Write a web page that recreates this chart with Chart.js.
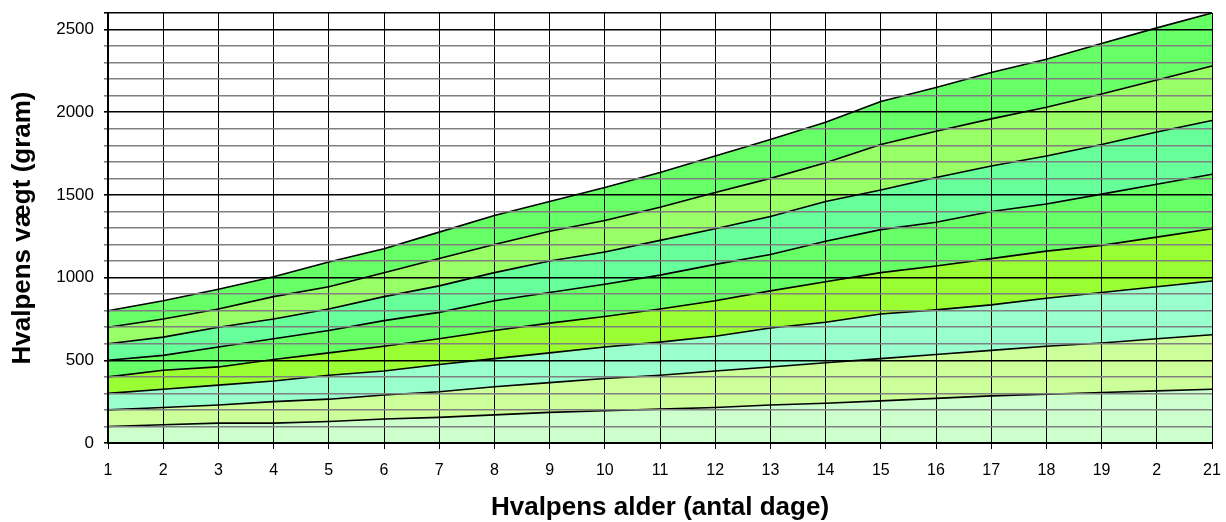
<!DOCTYPE html>
<html>
<head>
<meta charset="utf-8">
<script src="https://cdn.jsdelivr.net/npm/chart.js@4/dist/chart.umd.min.js"></script>
<style>
  html, body { margin: 0; padding: 0; background: #fff; }
  #wrap { width: 1226px; height: 522px; }
</style>
</head>
<body>
<div id="wrap"><canvas id="c" width="1226" height="522"></canvas></div>
<script>
// Day labels (the original chart shows "2" instead of "20")
const dayLabels = ["1","2","3","4","5","6","7","8","9","10","11","12","13","14","15","16","17","18","19","2","21"];

// Upper boundaries of each band (grams)
const line1 = [100,110,120,120,130,145,155,170,185,195,205,215,230,240,255,270,285,295,305,315,325];
const line2 = [200,215,230,250,265,290,310,340,365,390,410,435,460,485,510,535,560,585,605,630,655];
const line3 = [300,325,350,375,410,435,475,510,545,580,610,645,695,730,780,805,835,875,910,945,980];
const line4 = [400,440,460,505,545,585,630,680,725,765,810,860,920,975,1030,1070,1115,1160,1195,1245,1295];
const line5 = [500,530,580,630,680,740,790,860,910,960,1015,1080,1140,1220,1290,1335,1400,1445,1505,1565,1625];
const line6 = [600,640,700,750,810,885,950,1030,1100,1155,1225,1295,1370,1460,1530,1605,1675,1735,1805,1880,1950];
const line7 = [700,750,810,885,945,1030,1115,1200,1280,1345,1425,1515,1600,1695,1805,1885,1960,2030,2110,2195,2280];
const line8 = [800,860,930,1005,1095,1175,1275,1375,1460,1545,1635,1735,1835,1940,2065,2150,2240,2320,2415,2510,2600];

const bandColors = ["#CCFFCC","#CCFF99","#99FFCC","#99FF33","#66FF66","#66FF99","#99FF66","#66FF66"];
const allLines = [line1,line2,line3,line4,line5,line6,line7,line8];

const datasets = allLines.map((arr, i) => ({
  label: "Band " + (i + 1),
  data: arr,
  borderColor: "#000000",
  borderWidth: 1.6,
  backgroundColor: bandColors[i],
  fill: i === 0 ? "origin" : "-1",
  pointRadius: 0,
  tension: 0
}));

const FONT = "'Liberation Sans', Arial, sans-serif";
const isMajor = (ctx) => ctx.tick && (ctx.tick.value % 500 === 0 || ctx.tick.value === 2600);

new Chart(document.getElementById("c"), {
  type: "line",
  data: { labels: dayLabels, datasets: datasets },
  options: {
    responsive: false,
    animation: false,
    layout: { padding: { top: 13, right: 14, left: 0, bottom: 0 } },
    plugins: { legend: { display: false }, tooltip: { enabled: false } },
    scales: {
      x: {
        offset: false,
        grid: {
          z: 1,
          color: "#000000",
          lineWidth: 1,
          tickLength: 6
        },
        border: { color: "#000000", width: 2, z: 2 },
        ticks: {
          autoSkip: false,
          maxRotation: 0,
          color: "#000000",
          padding: 12,
          font: { family: FONT, size: 16 }
        },
        title: {
          display: true,
          text: "Hvalpens alder (antal dage)",
          color: "#000000",
          font: { family: FONT, size: 26, weight: "bold" },
          padding: { top: 0, bottom: -1 }
        },
        afterFit: (s) => { s.height = 79; s.paddingLeft = 0; s.paddingRight = 0; }
      },
      y: {
        min: 0,
        max: 2600,
        grid: {
          z: 1,
          color: (ctx) => isMajor(ctx) ? "#000000" : "#808080",
          lineWidth: 1.6,
          tickLength: 4
        },
        border: { color: "#000000", width: 2, z: 2 },
        ticks: {
          stepSize: 100,
          autoSkip: false,
          color: "#000000",
          padding: 10,
          font: { family: FONT, size: 17 },
          callback: (v) => (v % 500 === 0 ? String(v) : "")
        },
        title: {
          display: true,
          text: "Hvalpens vægt (gram)",
          color: "#000000",
          font: { family: FONT, size: 26, weight: "bold" },
          padding: { top: 7, bottom: 0 }
        },
        afterFit: (s) => { s.width = 108; s.paddingTop = 0; s.paddingBottom = 0; }
      }
    }
  }
});
</script>
</body>
</html>
